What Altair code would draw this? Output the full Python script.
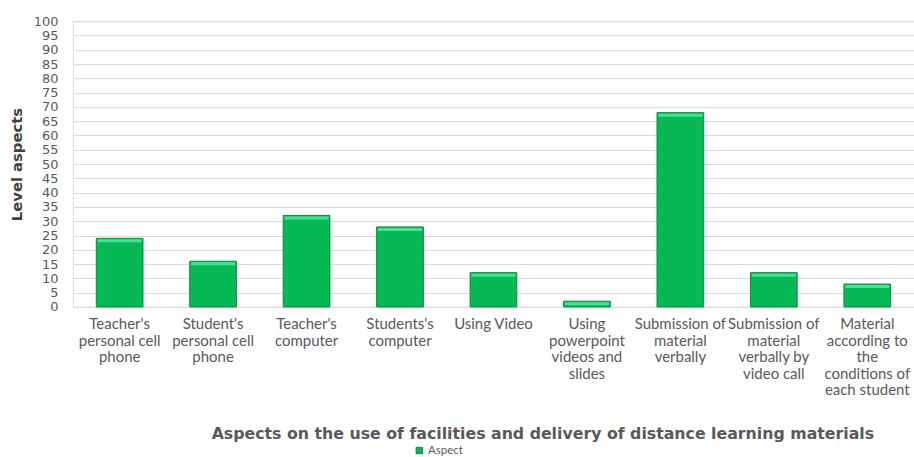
import altair as alt
import pandas as pd

# Aspects of distance learning facilities and their level values
categories = [
    "Teacher's\npersonal cell\nphone",
    "Student's\npersonal cell\nphone",
    "Teacher's\ncomputer",
    "Students's\ncomputer",
    "Using Video",
    "Using\npowerpoint\nvideos and\nslides",
    "Submission of\nmaterial\nverbally",
    "Submission of\nmaterial\nverbally by\nvideo call",
    "Material\naccording to\nthe\nconditions of\neach student",
]
values = [24, 16, 32, 28, 12, 2, 68, 12, 8]
series_name = "Aspect"
y_ticks = list(range(0, 101, 5))

df = pd.DataFrame({"category": categories, "value": values, "series": series_name})

GREEN = "#07b955"
GREEN_EDGE = "#0a8c43"
GREEN_TOP = "#3fe591"
LABEL_GRAY = "#595959"

x_enc = alt.X(
    "category:N",
    sort=categories,
    scale=alt.Scale(paddingInner=0.5, paddingOuter=0.25),
    axis=alt.Axis(
        title="Aspects on the use of facilities and delivery of distance learning materials",
        labelExpr="split(datum.label, '\\n')",
        labelAngle=0,
        labelAlign="center",
        labelBaseline="top",
        labelPadding=10,
        labelFont="Lato",
        labelFontSize=15,
        labelLineHeight=16.5,
        labelColor=LABEL_GRAY,
        labelLimit=200,
        labelOverlap=False,
        ticks=False,
        domain=True,
        domainColor="#d9d9d9",
        titleFont="DejaVu Sans",
        titleFontSize=15.8,
        titleFontWeight="bold",
        titleColor=LABEL_GRAY,
        titleX=470,
        titleY=127,
        titleAlign="center",
        titleBaseline="middle",
    ),
)

y_enc = alt.Y(
    "value:Q",
    scale=alt.Scale(domain=[0, 100], nice=False),
    axis=alt.Axis(
        title="Level aspects",
        values=y_ticks,
        labelFont="DejaVu Sans",
        labelFontSize=13,
        labelColor=LABEL_GRAY,
        labelPadding=15,
        labelOverlap=False,
        ticks=False,
        domain=False,
        grid=True,
        gridColor="#d9d9d9",
        gridWidth=1,
        titleFont="DejaVu Sans",
        titleFontSize=14.8,
        titleFontWeight="bold",
        titleColor="#404040",
        titleX=-55,
        titleY=143,
        titleAlign="center",
        titleBaseline="middle",
        titleAngle=-90,
    ),
)

bars = alt.Chart(df).mark_bar(
    stroke=GREEN_EDGE, strokeWidth=1
).encode(
    x=x_enc,
    y=y_enc,
    color=alt.Color(
        "series:N",
        scale=alt.Scale(domain=[series_name], range=[GREEN]),
        legend=alt.Legend(
            title=None,
            orient="none",
            legendX=341,
            legendY=424,
            symbolType="square",
            symbolSize=40,
            symbolStrokeColor=GREEN_EDGE,
            symbolStrokeWidth=1,
            labelFont="Lato",
            labelFontSize=11.5,
            labelColor=LABEL_GRAY,
            labelOffset=3,
        ),
    ),
)

# light bevel along the top of each bar
tops = alt.Chart(df).mark_tick(
    color=GREEN_TOP, thickness=3, size=44, yOffset=2.5, opacity=1
).encode(
    x=x_enc,
    y=y_enc,
)

chart = (
    alt.layer(bars, tops)
    .properties(
        width=842,
        height=286,
        autosize=alt.AutoSizeParams(type="none"),
        padding={"left": 73, "top": 21, "right": 0, "bottom": 150},
    )
    .configure_view(stroke=None)
    .configure(background="white")
)

chart.save("out.html", embed_options={"renderer": "svg", "actions": False})
